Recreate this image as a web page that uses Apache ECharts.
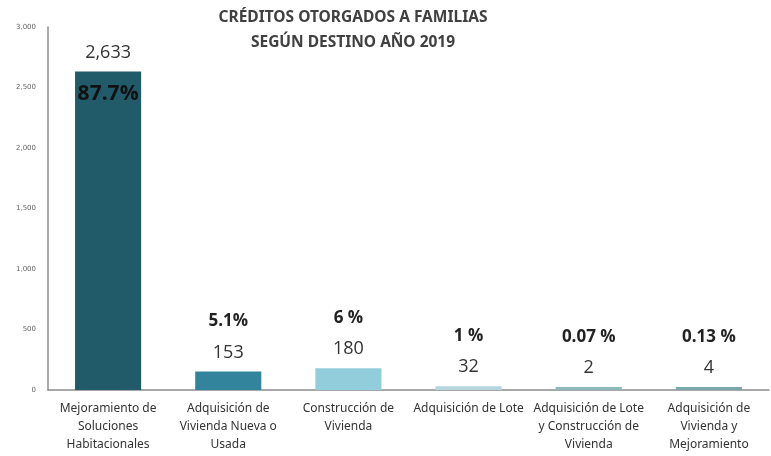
<!DOCTYPE html>
<html>
<head>
<meta charset="utf-8">
<script src="https://cdn.jsdelivr.net/npm/echarts@6/dist/echarts.min.js"></script>
<style>
  html, body { margin: 0; padding: 0; background: #fff; }
  #chart { width: 771px; height: 456px; }
</style>
</head>
<body>
<div id="chart"></div>
<script>
  // datos
  var categorias = [
    'Mejoramiento de\nSoluciones\nHabitacionales',
    'Adquisición de\nVivienda Nueva o\nUsada',
    'Construcción de\nVivienda',
    'Adquisición de Lote',
    'Adquisición de Lote\ny Construcción de\nVivienda',
    'Adquisición de\nVivienda y\nMejoramiento'
  ];
  var creditos = [2633, 153, 180, 32, 2, 4];
  var porcentajes = ['87.7%', '5.1%', '6 %', '1 %', '0.07 %', '0.13 %'];
  var colores = ['#215a69', '#31849b', '#92cddc', '#b4d6de', '#8fb8b8', '#7aa8a8'];

  var fmt = function (v) { return v.toLocaleString('en-US'); };

  var chart = echarts.init(document.getElementById('chart'));
  var option = {
    animation: false,
    title: {
      text: 'CRÉDITOS OTORGADOS A FAMILIAS\nSEGÚN DESTINO AÑO 2019',
      left: 348,
      top: 0,
      textAlign: 'center',
      textStyle: {
        fontFamily: 'Noto Sans',
        fontSize: 15.5,
        fontWeight: 'bold',
        color: '#404040',
        lineHeight: 25,
        align: 'center'
      }
    },
    grid: { left: 48, right: 2, top: 27, bottom: 66, containLabel: false },
    xAxis: {
      type: 'category',
      data: categorias,
      axisLine: { lineStyle: { color: '#8c8c8c', width: 1.5 } },
      axisTick: { show: false },
      axisLabel: {
        interval: 0,
        fontFamily: 'Noto Sans',
        fontSize: 12,
        color: '#333',
        lineHeight: 18,
        margin: 10
      }
    },
    yAxis: {
      type: 'value',
      min: 0,
      max: 3000,
      interval: 500,
      splitLine: { show: false },
      axisLine: { show: true, lineStyle: { color: '#8c8c8c', width: 1.5 } },
      axisTick: { show: false },
      axisLabel: {
        fontFamily: 'DejaVu Sans',
        fontSize: 7,
        color: '#666',
        margin: 12,
        formatter: fmt
      }
    },
    series: [
      {
        type: 'bar',
        barWidth: '55%',
        barMinHeight: 3,
        data: creditos.map(function (v, i) {
          return { value: v, itemStyle: { color: colores[i] } };
        }),
        label: {
          show: true,
          position: 'top',
          distance: 6,
          formatter: function (p) {
            if (p.dataIndex === 0) return '{v|' + fmt(p.value) + '}';
            return '{p|' + porcentajes[p.dataIndex] + '}\n{v|' + fmt(p.value) + '}';
          },
          rich: {
            v: { fontFamily: 'Open Sans', fontSize: 18, color: '#333', lineHeight: 26 },
            p: { fontFamily: 'Open Sans', fontSize: 17, fontWeight: 'bold', color: '#222', lineHeight: 36 }
          }
        }
      },
      {
        type: 'bar',
        barWidth: '55%',
        barGap: '-100%',
        silent: true,
        data: creditos,
        itemStyle: { color: 'rgba(0,0,0,0)' },
        label: {
          show: true,
          position: 'insideTop',
          distance: 12,
          fontFamily: 'Open Sans',
          fontSize: 21,
          fontWeight: 'bold',
          color: '#111',
          formatter: function (p) {
            return p.dataIndex === 0 ? porcentajes[0] : '';
          }
        }
      }
    ]
  };
  chart.setOption(option);
</script>
</body>
</html>
